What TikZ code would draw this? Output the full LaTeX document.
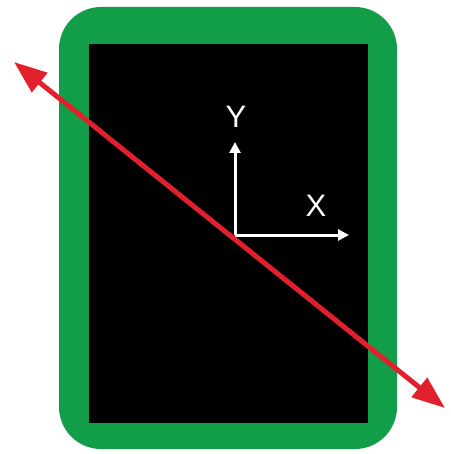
\documentclass[tikz,border=0pt]{standalone}
\usepackage{fontspec}
\setmainfont{Liberation Sans}
\usetikzlibrary{arrows.meta}
\definecolor{framegreen}{RGB}{18,158,72}
\definecolor{arrowred}{RGB}{226,32,44}
\begin{document}
\begin{tikzpicture}[x=1pt,y=-1pt,
  axis/.style={draw=white,line width=3pt,-{Triangle[length=11pt,width=11pt]}},
  redarrow/.style={draw=arrowred,line width=5pt,{Triangle[length=33pt,width=24pt]}-{Triangle[length=33pt,width=24pt]}},
  lbl/.style={text=white,font=\fontsize{31}{31}\selectfont,inner sep=0pt}]
\useasboundingbox (0,0) rectangle (450,454);
\fill[framegreen,rounded corners=42pt] (59,7) rectangle (397,449);
\fill[black] (89,44) rectangle (368,423);
\coordinate (o) at (235,235);
\coordinate (ytip) at (235,142);
\coordinate (xtip) at (349,235);
\draw[axis] (o) -- (ytip);
\draw[axis] (o) -- (xtip);
\node[lbl] (ylab) at (236,117) {Y};
\node[lbl] (xlab) at (316,206) {X};
\coordinate (a1) at (14,62);
\coordinate (a2) at (445,408);
\draw[redarrow] (a1) -- (a2);
\end{tikzpicture}
\end{document}
